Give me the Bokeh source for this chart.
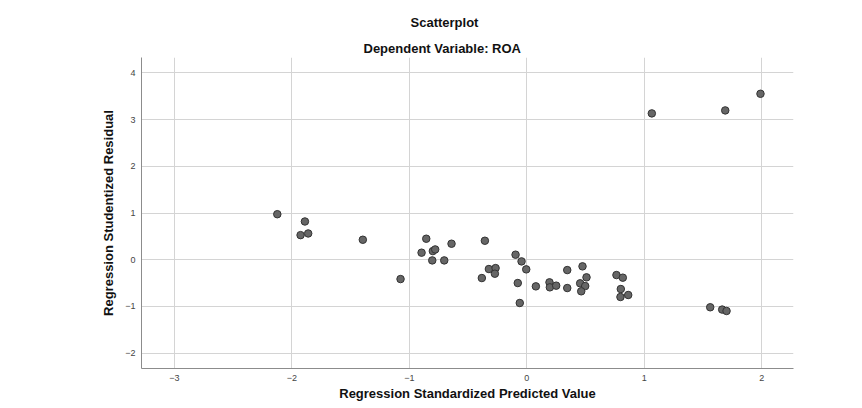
from bokeh.plotting import figure
from bokeh.models import Range1d, FixedTicker, Title, ColumnDataSource
from bokeh.embed import file_html
from bokeh.resources import INLINE

# Regression standardized predicted value (x) and studentized residual (y)
predicted = [-2.124, -1.889, -1.926, -1.861, -1.396, -1.075, -0.896, -0.856,
             -0.800, -0.780, -0.805, -0.703, -0.641, -0.357, -0.383, -0.323,
             -0.266, -0.272, -0.096, -0.045, -0.005, -0.077, -0.060, 0.077,
             0.193, 0.196, 0.250, 0.344, 0.344, 0.474, 0.454, 0.508,
             0.497, 0.463, 0.763, 0.817, 0.800, 0.797, 0.863, 1.561,
             1.663, 1.700, 1.064, 1.689, 1.989]
residual = [0.974, 0.818, 0.526, 0.562, 0.427, -0.415, 0.150, 0.449,
            0.184, 0.220, -0.015, -0.015, 0.342, 0.406, -0.393, -0.200,
            -0.180, -0.300, 0.107, -0.036, -0.207, -0.500, -0.927, -0.571,
            -0.485, -0.592, -0.556, -0.222, -0.607, -0.143, -0.506, -0.378,
            -0.564, -0.677, -0.329, -0.385, -0.628, -0.799, -0.756, -1.019,
            -1.068, -1.098, 3.133, 3.197, 3.553]

x_ticks = [-3, -2, -1, 0, 1, 2]
y_ticks = [-2, -1, 0, 1, 2, 3, 4]

title_text = "Scatterplot"
subtitle_text = "Dependent Variable: ROA"
x_label = "Regression Standardized Predicted Value"
y_label = "Regression Studentized Residual"

FONT = "Liberation Sans"

src = ColumnDataSource(data=dict(x=predicted, y=residual))

p = figure(width=854, height=404, output_backend="svg", toolbar_location=None,
           x_range=Range1d(-3.28, 2.27), y_range=Range1d(-2.33, 4.33),
           min_border_left=141, min_border_right=61, min_border_top=57,
           min_border_bottom=36)
p.outline_line_color = None
p.background_fill_color = "white"
p.border_fill_color = "white"

p.scatter("x", "y", source=src, size=7.5, fill_color="#666666",
          line_color="#333333", line_width=1)

# titles (first added sits closest to the plot)
p.add_layout(Title(text=subtitle_text, align="left", offset=222,
                   text_font=FONT, text_font_size="13px",
                   text_font_style="bold", text_color="#111111", standoff=3), "above")
p.add_layout(Title(text=title_text, align="left", offset=269,
                   text_font=FONT, text_font_size="13px",
                   text_font_style="bold", text_color="#111111", standoff=15), "above")

for ax in (p.xaxis[0], p.yaxis[0]):
    ax.axis_line_color = "#8c8c8c"
    ax.axis_line_width = 1
    ax.major_tick_line_color = None
    ax.minor_tick_line_color = None
    ax.major_tick_out = 0
    ax.major_tick_in = 0
    ax.major_label_text_font = FONT
    ax.major_label_text_font_size = "9px"
    ax.major_label_text_color = "#444444"
    ax.axis_label_text_font = FONT
    ax.axis_label_text_font_size = "13px"
    ax.axis_label_text_font_style = "bold"
    ax.axis_label_text_color = "#111111"

p.xaxis.ticker = FixedTicker(ticks=x_ticks)
p.yaxis.ticker = FixedTicker(ticks=y_ticks)
p.xaxis.axis_label = x_label
p.yaxis.axis_label = y_label
p.xaxis.major_label_standoff = 6
p.xaxis.axis_label_standoff = 2
p.yaxis.major_label_standoff = 6
p.yaxis.axis_label_standoff = 6

p.grid.grid_line_color = "#d4d4d4"
p.grid.grid_line_width = 1

open("out.html", "w").write(file_html(p, INLINE))
